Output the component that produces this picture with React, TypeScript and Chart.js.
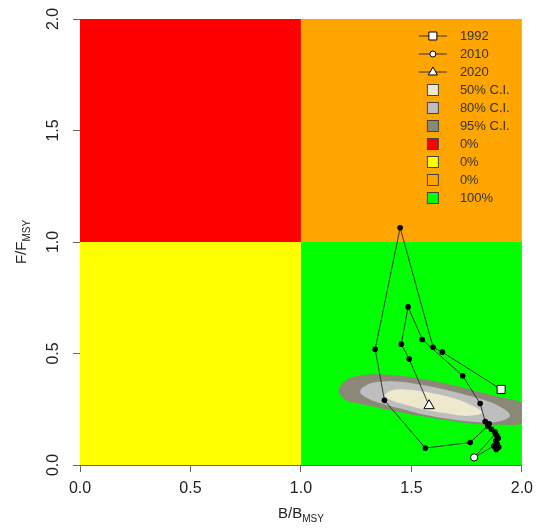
import React, { useEffect, useRef } from "react";
import { Chart, registerables } from "chart.js";

Chart.register(...registerables);

// ---- data ----
const years = [
  1992, 1993, 1994, 1995, 1996, 1997, 1998, 1999, 2000, 2001, 2002, 2003, 2004, 2005, 2006,
  2007, 2008, 2009, 2010, 2011, 2012, 2013, 2014, 2015, 2016, 2017, 2018, 2019, 2020,
];
const bRatio = [
  1.906, 1.64, 1.598, 1.449, 1.336, 1.378, 1.563, 1.766, 1.845, 1.862, 1.878, 1.886, 1.893, 1.882,
  1.889, 1.895, 1.884, 1.872, 1.784, 1.88, 1.852, 1.834, 1.811, 1.732, 1.549, 1.485, 1.454, 1.49, 1.58,
];
const fRatio = [
  0.339, 0.506, 0.528, 1.064, 0.519, 0.29, 0.076, 0.101, 0.175, 0.16, 0.148, 0.132, 0.12, 0.108,
  0.094, 0.08, 0.07, 0.085, 0.034, 0.14, 0.185, 0.195, 0.276, 0.4, 0.563, 0.709, 0.542, 0.475, 0.266,
];
const markedYears = [1992, 2010, 2020];

const ci95B = [1.566, 1.68, 1.79, 1.9, 2.0, 2.06, 2.0, 1.9, 1.79, 1.68, 1.566, 1.45, 1.342, 1.25, 1.2, 1.171, 1.2, 1.25, 1.342, 1.45, 1.566];
const ci95F = [0.383, 0.36, 0.332, 0.305, 0.279, 0.225, 0.185, 0.18, 0.183, 0.198, 0.215, 0.236, 0.259, 0.278, 0.293, 0.33, 0.377, 0.398, 0.407, 0.4, 0.383];
const ci80B = [1.566, 1.68, 1.79, 1.88, 1.946, 1.88, 1.79, 1.68, 1.566, 1.45, 1.36, 1.3, 1.268, 1.3, 1.36, 1.45, 1.566];
const ci80F = [0.356, 0.331, 0.303, 0.272, 0.222, 0.192, 0.193, 0.205, 0.224, 0.253, 0.277, 0.3, 0.329, 0.36, 0.373, 0.373, 0.356];
const ci50B = [1.566, 1.66, 1.75, 1.82, 1.75, 1.66, 1.566, 1.47, 1.41, 1.38, 1.41, 1.47, 1.566];
const ci50F = [0.329, 0.308, 0.278, 0.235, 0.22, 0.232, 0.247, 0.271, 0.29, 0.31, 0.334, 0.339, 0.329];

const axisTicks = [0, 0.5, 1, 1.5, 2];
const quadrantBreaks = [0, 1, 2];
// order: top-left, top-right, bottom-left, bottom-right
const quadrantColors = ["#FF0000", "#FFA500", "#FFFF00", "#00FF00"];
const quadrantLegendOrder = [0, 2, 1, 3];
const quadrantPercents = ["0%", "0%", "0%", "100%"];
const ciLabels = ["50% C.I.", "80% C.I.", "95% C.I."];
const ciColors = ["#EEE8CD", "#BEBEBE", "#8B8878"];

const FONT = "'Liberation Sans', Arial, Helvetica, sans-serif";

const quadrantPlugin = {
  id: "quadrants",
  beforeDatasetsDraw(chart: any) {
    const { ctx, scales } = chart;
    const xs = scales.x;
    const ys = scales.y;
    const cells = [
      [0, 1, 1, 2],
      [1, 2, 1, 2],
      [0, 1, 0, 1],
      [1, 2, 0, 1],
    ];
    ctx.save();
    cells.forEach((c, i) => {
      const x0 = xs.getPixelForValue(quadrantBreaks[c[0]]);
      const x1 = xs.getPixelForValue(quadrantBreaks[c[1]]);
      const y0 = ys.getPixelForValue(quadrantBreaks[c[3]]);
      const y1 = ys.getPixelForValue(quadrantBreaks[c[2]]);
      ctx.fillStyle = quadrantColors[i];
      ctx.fillRect(x0, y0, x1 - x0, y1 - y0);
    });
    ctx.restore();
  },
};

function drawSubTitle(ctx: any, main: string, sub: string, cx: number, cy: number, rot: number) {
  ctx.save();
  ctx.translate(cx, cy);
  ctx.rotate(rot);
  ctx.fillStyle = "#222";
  ctx.textBaseline = "alphabetic";
  ctx.textAlign = "left";
  ctx.font = `15px ${FONT}`;
  const w1 = ctx.measureText(main).width;
  ctx.font = `10px ${FONT}`;
  const w2 = ctx.measureText(sub).width;
  const start = -(w1 + w2) / 2;
  ctx.font = `15px ${FONT}`;
  ctx.fillText(main, start, 5);
  ctx.font = `10px ${FONT}`;
  ctx.fillText(sub, start + w1, 9);
  ctx.restore();
}

const decorPlugin = {
  id: "decor",
  afterDraw(chart: any) {
    const { ctx, chartArea } = chart;
    const cxMid = (chartArea.left + chartArea.right) / 2;
    const cyMid = (chartArea.top + chartArea.bottom) / 2;
    drawSubTitle(ctx, "B/B", "MSY", cxMid, chartArea.bottom + 48, 0);
    drawSubTitle(ctx, "F/F", "MSY", chartArea.left - 59, cyMid, -Math.PI / 2);

    // legend
    const sx = chartArea.right - 89;
    const tx = chartArea.right - 62;
    let y = chartArea.top + 17;
    const step = 18;
    ctx.save();
    ctx.font = `13px ${FONT}`;
    ctx.textBaseline = "middle";
    ctx.textAlign = "left";
    const shapes = ["rect", "circle", "triangle"];
    markedYears.forEach((yr, i) => {
      ctx.strokeStyle = "#333";
      ctx.lineWidth = 1;
      ctx.beginPath();
      ctx.moveTo(sx - 14, y);
      ctx.lineTo(sx + 14, y);
      ctx.stroke();
      ctx.fillStyle = "#fff";
      ctx.strokeStyle = "#000";
      ctx.beginPath();
      if (shapes[i] === "rect") {
        ctx.rect(sx - 4, y - 4, 8, 8);
      } else if (shapes[i] === "circle") {
        ctx.arc(sx, y, 3, 0, Math.PI * 2);
      } else {
        ctx.moveTo(sx, y - 5);
        ctx.lineTo(sx + 4.5, y + 3);
        ctx.lineTo(sx - 4.5, y + 3);
        ctx.closePath();
      }
      ctx.fill();
      ctx.stroke();
      ctx.fillStyle = "#333";
      ctx.fillText(String(yr), tx, y);
      y += step;
    });
    const boxes: [string, string][] = [];
    ciLabels.forEach((l, i) => boxes.push([ciColors[i], l]));
    quadrantLegendOrder.forEach((q) => boxes.push([quadrantColors[q], quadrantPercents[q]]));
    boxes.forEach(([col, lab]) => {
      ctx.fillStyle = col;
      ctx.strokeStyle = "#444";
      ctx.lineWidth = 1;
      ctx.fillRect(sx - 5.5, y - 5.5, 11, 11);
      ctx.strokeRect(sx - 5.5, y - 5.5, 11, 11);
      ctx.fillStyle = "#333";
      ctx.fillText(lab, tx, y);
      y += step;
    });
    ctx.restore();
  },
};

export default function App() {
  const ref = useRef<HTMLCanvasElement | null>(null);

  useEffect(() => {
    if (!ref.current) return;
    const pts = years.map((_, i) => ({ x: bRatio[i], y: fRatio[i] }));
    const marks = markedYears.map((yr) => {
      const i = years.indexOf(yr);
      return { x: bRatio[i], y: fRatio[i] };
    });
    const contour = (bs: number[], fs: number[], color: string, order: number) => ({
      data: bs.map((b, i) => ({ x: b, y: fs[i] })),
      showLine: true,
      fill: "shape",
      backgroundColor: color,
      borderWidth: 0,
      borderColor: color,
      pointRadius: 0,
      tension: 0.4,
      order,
    });

    const axisCommon = () => ({
      type: "linear",
      min: 0,
      max: 2,
      z: 1,
      afterBuildTicks: (s: any) => {
        s.ticks = axisTicks.map((v) => ({ value: v }));
      },
      grid: {
        display: true,
        drawOnChartArea: false,
        drawTicks: true,
        tickLength: 7,
        color: "#666",
      },
      border: { display: true, color: "#666", width: 1 },
      title: { display: false },
    });

    const chart = new Chart(ref.current, {
      type: "scatter",
      data: {
        datasets: [
          {
            data: marks,
            pointStyle: ["rect", "circle", "triangle"],
            pointRadius: [5.7, 3.6, 6],
            pointBackgroundColor: "#fff",
            pointBorderColor: "#000",
            pointBorderWidth: 1,
            showLine: false,
            order: 0,
          },
          {
            data: pts,
            showLine: true,
            borderColor: "#2a2a2a",
            borderWidth: 0.9,
            pointRadius: 2.8,
            pointBackgroundColor: "#000",
            pointBorderColor: "#000",
            pointBorderWidth: 0,
            tension: 0,
            order: 1,
          },
          contour(ci50B, ci50F, ciColors[0], 2),
          contour(ci80B, ci80F, ciColors[1], 3),
          contour(ci95B, ci95F, ciColors[2], 4),
        ] as any,
      },
      options: {
        animation: false,
        responsive: false,
        devicePixelRatio: 1,
        events: [],
        layout: { padding: { left: 0, right: 13, top: 19, bottom: 0 } },
        font: { family: FONT },
        plugins: {
          legend: { display: false },
          tooltip: { enabled: false },
        },
        scales: {
          x: {
            ...axisCommon(),
            position: "bottom",
            ticks: {
              callback: (v: any) => Number(v).toFixed(1),
              font: { size: 16, family: FONT },
              color: "#222",
              padding: 7,
              maxRotation: 0,
              minRotation: 0,
              autoSkip: false,
            },
            afterFit: (s: any) => {
              s.height = 66;
            },
          },
          y: {
            ...axisCommon(),
            position: "left",
            ticks: {
              callback: (v: any) => Number(v).toFixed(1),
              font: { size: 16, family: FONT },
              color: "#222",
              padding: 8,
              minRotation: 90,
              maxRotation: 90,
              crossAlign: "center",
              autoSkip: false,
            },
            afterFit: (s: any) => {
              s.width = 80;
            },
          },
        } as any,
      } as any,
      plugins: [quadrantPlugin, decorPlugin],
    });
    return () => chart.destroy();
  }, []);

  return (
    <div style={{ position: "fixed", left: 0, top: 0, width: 540, height: 531, background: "#fff" }}>
      <canvas ref={ref} width={540} height={531} style={{ width: 540, height: 531, display: "block" }} />
    </div>
  );
}
